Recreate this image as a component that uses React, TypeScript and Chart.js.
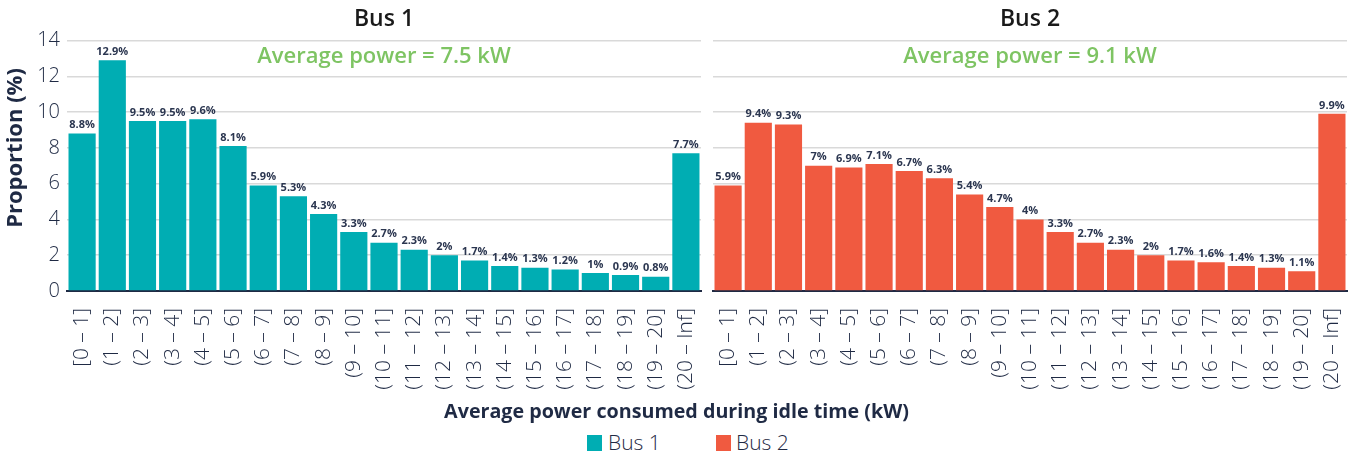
import React, { useEffect, useRef } from "react";
import { Chart, registerables } from "chart.js";

Chart.register(...registerables);

const categories = [
  "[0 – 1]", "(1 – 2]", "(2 – 3]", "(3 – 4]", "(4 – 5]", "(5 – 6]", "(6 – 7]",
  "(7 – 8]", "(8 – 9]", "(9 – 10]", "(10 – 11]", "(11 – 12]", "(12 – 13]", "(13 – 14]",
  "(14 – 15]", "(15 – 16]", "(16 – 17]", "(17 – 18]", "(18 – 19]", "(19 – 20]", "(20 – Inf]",
];
const bus1Values = [8.8, 12.9, 9.5, 9.5, 9.6, 8.1, 5.9, 5.3, 4.3, 3.3, 2.7, 2.3, 2, 1.7, 1.4, 1.3, 1.2, 1, 0.9, 0.8, 7.7];
const bus2Values = [5.9, 9.4, 9.3, 7, 6.9, 7.1, 6.7, 6.3, 5.4, 4.7, 4, 3.3, 2.7, 2.3, 2, 1.7, 1.6, 1.4, 1.3, 1.1, 9.9];
const yMin = 0;
const yMax = 14;
const yStep = 2;
const bus1Name = "Bus 1";
const bus2Name = "Bus 2";
const bus1Average = "Average power = 7.5 kW";
const bus2Average = "Average power = 9.1 kW";
const yAxisTitle = "Proportion (%)";
const xAxisTitle = "Average power consumed during idle time (kW)";

const FONT = "'Open Sans', Lato, sans-serif";
const NAVY = "#1F2A44";
const TEAL = "#00ADB3";
const RED = "#F05A40";
const GREEN = "#7EC463";
const GRID = "#D9D9D9";

type PanelProps = {
  name: string;
  values: number[];
  color: string;
  average: string;
  yTitle: string;
  showYAxis: boolean;
  width: number;
  left: number;
  yWidth: number;
  rightPad: number;
};

const labelPlugin = {
  id: "valueLabels",
  afterDatasetsDraw(chart: any) {
    const ctx = chart.ctx;
    const meta = chart.getDatasetMeta(0);
    const data = chart.data.datasets[0].data as number[];
    ctx.save();
    ctx.font = `bold 11px ${FONT}`;
    ctx.fillStyle = "#2B3650";
    ctx.textAlign = "center";
    ctx.textBaseline = "bottom";
    meta.data.forEach((bar: any, i: number) => {
      ctx.fillText(`${data[i]}%`, bar.x, bar.y - 3);
    });
    ctx.restore();
  },
};

const headPlugin = {
  id: "headText",
  afterDraw(chart: any) {
    const opts = chart.options.plugins.headText || {};
    const { ctx, chartArea } = chart;
    const cx = (chartArea.left + chartArea.right) / 2;
    ctx.save();
    ctx.textAlign = "center";
    ctx.textBaseline = "middle";
    if (opts.title) {
      ctx.font = `600 23px ${FONT}`;
      ctx.fillStyle = "#1A1A1A";
      ctx.fillText(opts.title, cx, 19);
    }
    if (opts.average) {
      ctx.font = `600 22px ${FONT}`;
      ctx.fillStyle = GREEN;
      ctx.fillText(opts.average, cx, chartArea.top + 16);
    }
    if (opts.yTitle) {
      ctx.save();
      ctx.translate(16, 148);
      ctx.rotate(-Math.PI / 2);
      ctx.font = `bold 22px ${FONT}`;
      ctx.fillStyle = NAVY;
      ctx.fillText(opts.yTitle, 0, 0);
      ctx.restore();
    }
    ctx.restore();
  },
};

function Panel(p: PanelProps) {
  const ref = useRef<HTMLCanvasElement | null>(null);
  useEffect(() => {
    if (!ref.current) return;
    const chart = new Chart(ref.current, {
      type: "bar",
      data: {
        labels: categories,
        datasets: [
          {
            label: p.name,
            data: p.values,
            backgroundColor: p.color,
            categoryPercentage: 1,
            barPercentage: 0.9,
          },
        ],
      },
      plugins: [labelPlugin, headPlugin],
      options: {
        responsive: false,
        animation: false,
        layout: { padding: { left: 0, right: p.rightPad, top: 40.5, bottom: 0 } },
        plugins: {
          legend: { display: false },
          tooltip: { enabled: false },
          title: { display: false },
          headText: { title: p.name, average: p.average, yTitle: p.yTitle },
        } as any,
        scales: {
          x: {
            grid: { display: false },
            border: { display: true, color: NAVY, width: 2 },
            ticks: {
              autoSkip: false,
              maxRotation: 90,
              minRotation: 90,
              color: NAVY,
              padding: 9,
              font: { family: FONT, size: 21, weight: "300" },
            },
            afterFit: (s: any) => {
              s.height = 109;
              s.paddingLeft = 0;
              s.paddingRight = 0;
            },
          },
          y: {
            min: yMin,
            max: yMax,
            border: { display: false },
            grid: { color: GRID, lineWidth: 1.5, drawTicks: false },
            ticks: {
              display: p.showYAxis,
              stepSize: yStep,
              color: NAVY,
              padding: 7,
              font: { family: FONT, size: 20, weight: "300" },
            },
            afterFit: (s: any) => {
              s.width = p.yWidth;
              s.paddingTop = 0;
              s.paddingBottom = 0;
            },
          },
        },
      } as any,
    });
    return () => chart.destroy();
  }, []);
  return (
    <canvas
      ref={ref}
      width={p.width}
      height={400}
      style={{ position: "absolute", left: p.left, top: 0, width: p.width, height: 400 }}
    />
  );
}

export default function App() {
  const legendText: React.CSSProperties = {
    position: "absolute",
    top: 429,
    height: 26,
    lineHeight: "26px",
    fontSize: 21,
    fontWeight: 300,
    color: NAVY,
    whiteSpace: "nowrap",
  };
  return (
    <div
      style={{
        position: "absolute",
        left: 0,
        top: 0,
        width: 1353,
        height: 454,
        background: "#fff",
        fontFamily: FONT,
        overflow: "hidden",
      }}
    >
      <Panel name={bus1Name} values={bus1Values} color={TEAL} average={bus1Average} yTitle={yAxisTitle}
        showYAxis={true} width={706} left={0} yWidth={67} rightPad={5} />
      <Panel name={bus2Name} values={bus2Values} color={RED} average={bus2Average} yTitle=""
        showYAxis={false} width={647} left={706} yWidth={7} rightPad={6} />
      <div
        style={{
          position: "absolute",
          left: 0,
          top: 398,
          width: 1353,
          height: 26,
          lineHeight: "26px",
          textAlign: "center",
          fontWeight: 700,
          fontSize: 19.7,
          color: NAVY,
          whiteSpace: "nowrap",
        }}
      >
        {xAxisTitle}
      </div>
      <div style={{ position: "absolute", left: 587, top: 435, width: 15, height: 16, background: TEAL }} />
      <div style={{ ...legendText, left: 608 }}>{bus1Name}</div>
      <div style={{ position: "absolute", left: 716, top: 435, width: 15, height: 16, background: RED }} />
      <div style={{ ...legendText, left: 736 }}>{bus2Name}</div>
    </div>
  );
}
